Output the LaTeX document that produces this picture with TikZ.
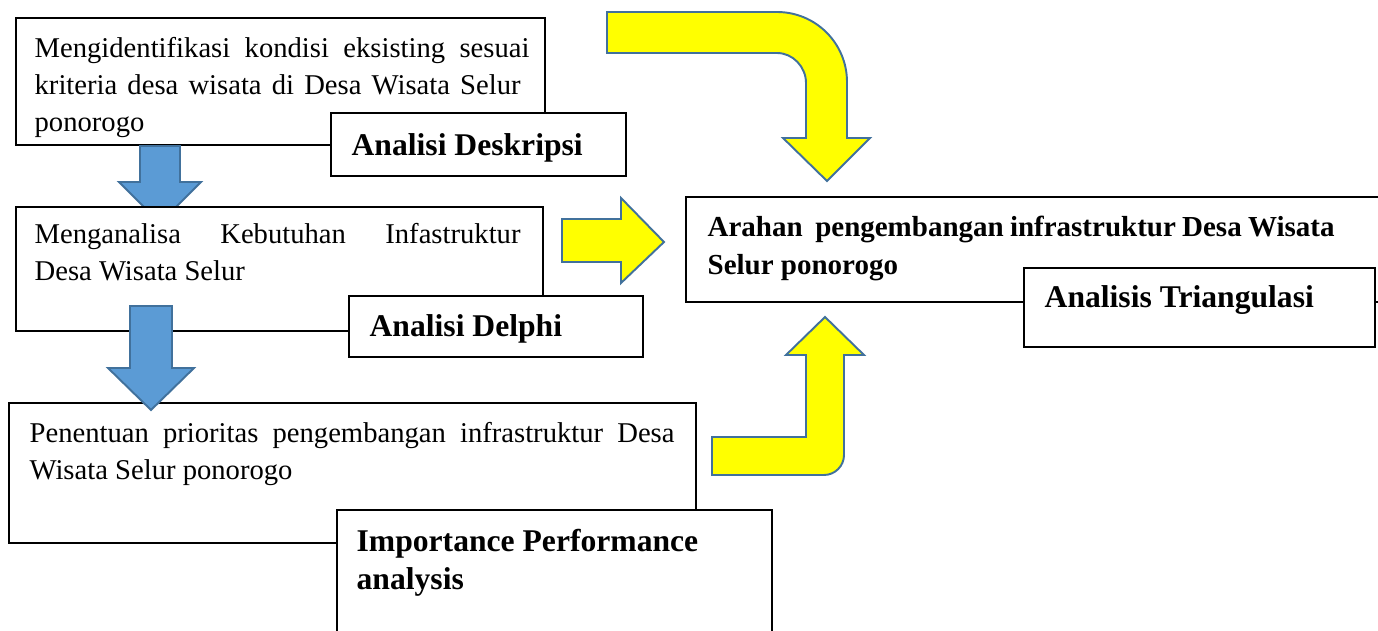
\documentclass[tikz,border=0pt]{standalone}
\usepackage{fontspec}
\setmainfont{Liberation Serif}
\usepackage{xcolor}
\usepackage{tikz}
\usetikzlibrary{fit}
\definecolor{blockblue}{HTML}{5B9BD5}
\definecolor{blockedge}{HTML}{41719C}
\definecolor{blockyellow}{HTML}{FFFF00}

\begin{document}
\begin{tikzpicture}[x=0.02cm,y=-0.02cm]

\tikzset{stagebox/.style={draw=black, line width=0.8pt, fill=white, inner sep=0pt},
    stagetxt/.style={anchor=north west, inner sep=0pt, align=left, font=\fontsize{16.3}{21}\selectfont},
    methodtxt/.style={anchor=north west, inner sep=0pt, align=left, font=\bfseries\fontsize{18}{21.5}\selectfont},
    goaltxt/.style={anchor=north west, inner sep=0pt, align=left, font=\bfseries\fontsize{16.5}{22}\selectfont},
    bluearrow/.style={fill=blockblue, draw=blockedge, line width=1.1pt, line join=miter},
    yellowarrow/.style={fill=blockyellow, draw=blockedge, line width=1.1pt, line join=miter}}

\clip (0,0) rectangle (1378,631);

\node[stagebox, fit={(16,18) (545,145)}] (identifikasi) {};
\node[stagetxt] (identifikasitxt) at ([shift={(19,19.4)}]identifikasi.north west)
    {\makebox[9.9cm][s]{Mengidentifikasi kondisi eksisting sesuai}\\\makebox[9.72cm][s]{kriteria desa wisata di Desa Wisata Selur}\\ponorogo};

\draw[bluearrow] (140,146) -- (180,146) -- (180,182) -- (201,182) -- (160,223) -- (119,182) -- (140,182) -- cycle;

\node[stagebox, fit={(16,207) (543,331)}] (kebutuhan) {};
\node[stagetxt] (kebutuhantxt) at ([shift={(19,16.4)}]kebutuhan.north west)
    {\makebox[9.72cm][s]{Menganalisa Kebutuhan Infastruktur}\\Desa Wisata Selur};

\node[stagebox, fit={(331,113) (626,176)}] (deskripsi) {};
\node[methodtxt] (deskripsitxt) at ([shift={(21,21)}]deskripsi.north west) {Analisi Deskripsi};

\node[stagebox, fit={(349,296) (643,357)}] (delphi) {};
\node[methodtxt] (delphitxt) at ([shift={(21,19)}]delphi.north west) {Analisi Delphi};

\node[stagebox, fit={(9,403) (696,543)}] (prioritas) {};
\node[stagetxt] (prioritastxt) at ([shift={(21,19.4)}]prioritas.north west)
    {\makebox[12.9cm][s]{Penentuan prioritas pengembangan infrastruktur Desa}\\Wisata Selur ponorogo};

\draw[bluearrow] (130,306) -- (172,306) -- (172,368) -- (194,368) -- (151,410) -- (108,368) -- (130,368) -- cycle;

\node[stagebox, fit={(337,510) (772,660)}] (ipa) {};
\node[methodtxt] (ipatxt) at ([shift={(20,20)}]ipa.north west) {Importance Performance\\analysis};

\node[stagebox, fit={(686,197) (1400,302)}] (arahan) {};
\node[goaltxt] (arahantxt) at ([shift={(22,19)}]arahan.north west)
    {\makebox[12.54cm][s]{Arahan\ \ pengembangan infrastruktur Desa Wisata}\\Selur ponorogo};

\node[stagebox, fit={(1024,268) (1375,347)}] (triangulasi) {};
\node[methodtxt] (triangulasitxt) at ([shift={(21,18)}]triangulasi.north west) {Analisis Triangulasi};

\draw[yellowarrow] (562,219) -- (621,219) -- (621,198) -- (664,242) -- (621,283) -- (621,262) -- (562,262) -- cycle;

\draw[yellowarrow] (607,12) -- (777,12) .. controls (815.7,12) and (847,43.3) .. (847,82) -- (847,138)
    -- (870,138) -- (827,181) -- (783,138) -- (806,138) -- (806,83) .. controls (806,67) and (793,53) .. (777,53)
    -- (607,53) -- cycle;

\draw[yellowarrow] (712,437) -- (806,437) -- (806,355) -- (786,355) -- (825,317) -- (864,355) -- (844,355)
    -- (844,455) .. controls (844,466) and (835,475) .. (824,475) -- (712,475) -- cycle;

\end{tikzpicture}
\end{document}
